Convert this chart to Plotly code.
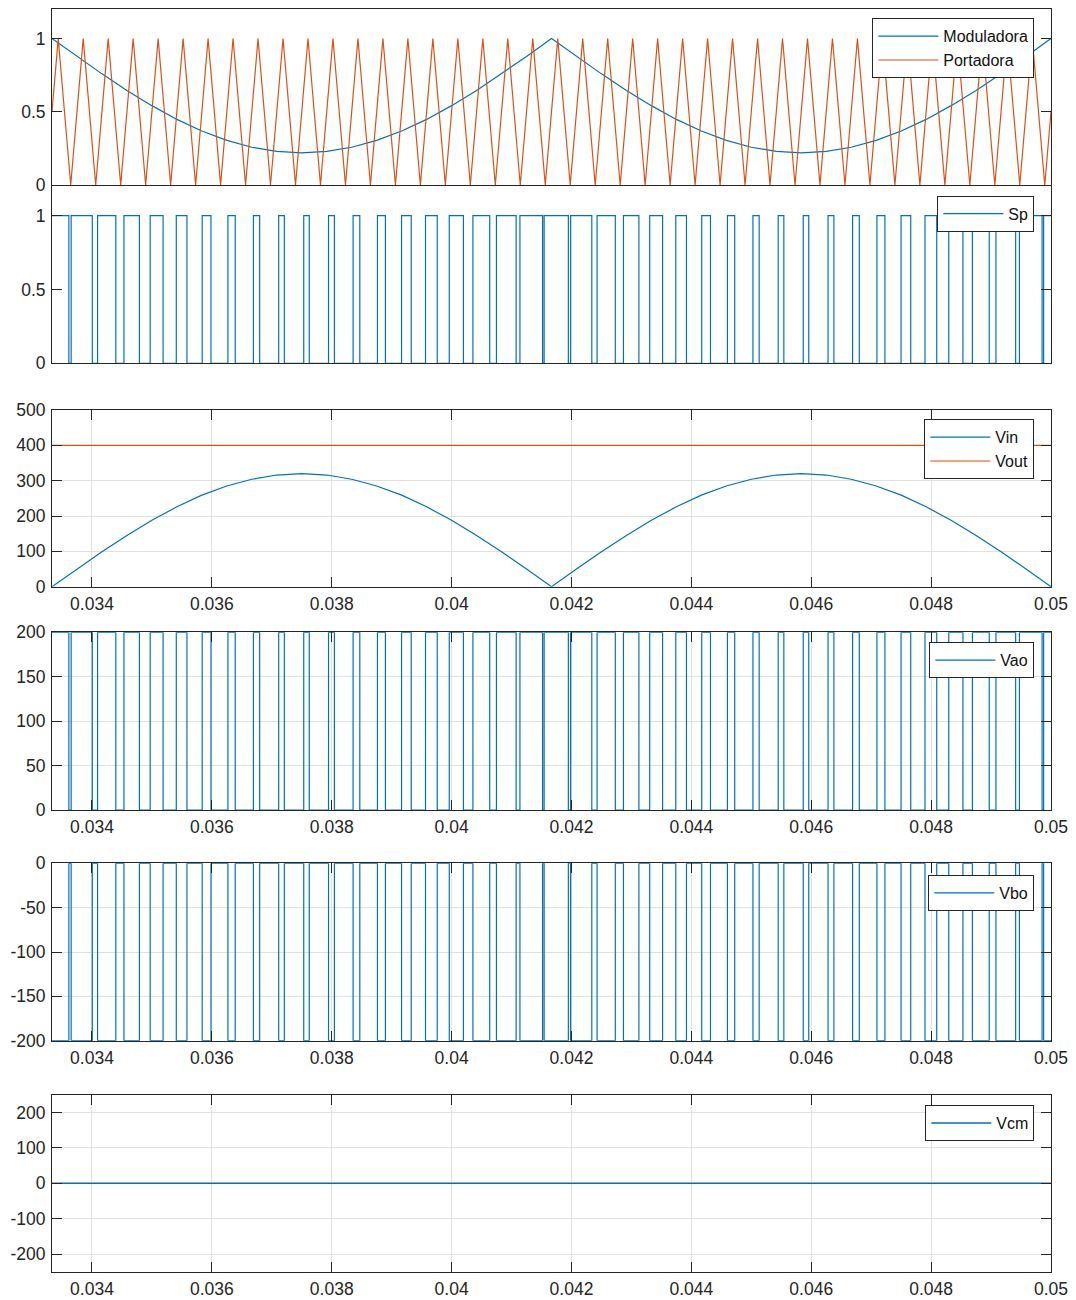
import plotly.graph_objects as go

# ---------------- data (times in milliseconds) ----------------
# Modulating signal and rectified input voltage, sampled every carrier period
mod_t_ms = [33.333, 33.750, 34.167, 34.583, 35.000, 35.417, 35.833, 36.250, 36.667, 37.083,
            37.500, 37.917, 38.333, 38.750, 39.167, 39.583, 40.000, 40.417, 40.833, 41.250,
            41.667, 42.083, 42.500, 42.917, 43.333, 43.750, 44.167, 44.583, 45.000, 45.417,
            45.833, 46.250, 46.667, 47.083, 47.500, 47.917, 48.333, 48.750, 49.167, 49.583,
            50.000]
moduladora = [1.000, 0.878, 0.759, 0.646, 0.542, 0.448, 0.369, 0.305, 0.258, 0.230,
              0.220, 0.230, 0.258, 0.305, 0.369, 0.448, 0.542, 0.646, 0.759, 0.878,
              1.000, 0.878, 0.759, 0.646, 0.542, 0.448, 0.369, 0.305, 0.258, 0.230,
              0.220, 0.230, 0.258, 0.305, 0.369, 0.448, 0.542, 0.646, 0.759, 0.878,
              1.000]
vin = [0, 50, 99, 145, 188, 226, 259, 285, 304, 316,
       320, 316, 304, 285, 259, 226, 188, 145, 99, 50,
       0, 50, 99, 145, 188, 226, 259, 285, 304, 316,
       320, 316, 304, 285, 259, 226, 188, 145, 99, 50,
       0]
vout_t_ms = [33.333, 50.000]
vout = [400, 400]

# Triangular carrier: vertex times and values
carrier_t_ms = [33.3333, 33.4375, 33.6458, 33.8542, 34.0625, 34.2708, 34.4792, 34.6875, 34.8958, 35.1042,
                35.3125, 35.5208, 35.7292, 35.9375, 36.1458, 36.3542, 36.5625, 36.7708, 36.9792, 37.1875,
                37.3958, 37.6042, 37.8125, 38.0208, 38.2292, 38.4375, 38.6458, 38.8542, 39.0625, 39.2708,
                39.4792, 39.6875, 39.8958, 40.1042, 40.3125, 40.5208, 40.7292, 40.9375, 41.1458, 41.3542,
                41.5625, 41.7708, 41.9792, 42.1875, 42.3958, 42.6042, 42.8125, 43.0208, 43.2292, 43.4375,
                43.6458, 43.8542, 44.0625, 44.2708, 44.4792, 44.6875, 44.8958, 45.1042, 45.3125, 45.5208,
                45.7292, 45.9375, 46.1458, 46.3542, 46.5625, 46.7708, 46.9792, 47.1875, 47.3958, 47.6042,
                47.8125, 48.0208, 48.2292, 48.4375, 48.6458, 48.8542, 49.0625, 49.2708, 49.4792, 49.6875,
                49.8958, 50.0000]
portadora = [0.5, 1, 0, 1, 0, 1, 0, 1, 0, 1,
             0, 1, 0, 1, 0, 1, 0, 1, 0, 1,
             0, 1, 0, 1, 0, 1, 0, 1, 0, 1,
             0, 1, 0, 1, 0, 1, 0, 1, 0, 1,
             0, 1, 0, 1, 0, 1, 0, 1, 0, 1,
             0, 1, 0, 1, 0, 1, 0, 1, 0, 1,
             0, 1, 0, 1, 0, 1, 0, 1, 0, 1,
             0, 1, 0, 1, 0, 1, 0, 1, 0, 1,
             0, 0.5]

# Gate signal Sp: rising / falling edge times of each pulse
sp_rise_ms = [33.2105, 33.6526, 34.0937, 34.5336, 34.9715, 35.4068, 35.8393, 36.2684, 36.6939, 37.1155,
              37.5332, 37.9468, 38.3566, 38.7627, 39.1651, 39.5645, 39.9611, 40.3555, 40.7483, 41.1400,
              41.5438, 41.9859, 42.4271, 42.8669, 43.3048, 43.7402, 44.1726, 44.6017, 45.0273, 45.4488,
              45.8665, 46.2802, 46.6899, 47.0960, 47.4985, 47.8978, 48.2944, 48.6889, 49.0816, 49.4733,
              49.8772]
sp_fall_ms = [33.6145, 34.0058, 34.3979, 34.7914, 35.1869, 35.5848, 35.9857, 36.3900, 36.7977, 37.2095,
              37.6252, 38.0448, 38.4684, 38.8957, 39.3265, 39.7605, 40.1973, 40.6361, 41.0767, 41.5184,
              41.9478, 42.3391, 42.7313, 43.1247, 43.5202, 43.9182, 44.3190, 44.7233, 45.1311, 45.5428,
              45.9585, 46.3782, 46.8017, 47.2290, 47.6599, 48.0938, 48.5306, 48.9695, 49.4100, 49.8517,
              50.2812]
sp_levels = [0, 1]
vao_levels = [0, 200]
vbo_levels = [0, -200]
vcm_t_ms = [33.333, 50.000]
vcm = [0, 0]

x_tickvals = [0.034, 0.036, 0.038, 0.040, 0.042, 0.044, 0.046, 0.048, 0.050]
x_ticktext = ['0.034', '0.036', '0.038', '0.04', '0.042', '0.044', '0.046', '0.048', '0.05']

# ---------------- helpers ----------------
def sec(ms_list):
    return [v / 1000.0 for v in ms_list]

def step_wave(rises, falls, levels):
    xs, ys = [], []
    lo, hi = levels
    for r, f in zip(rises, falls):
        xs += [r, r, f, f]
        ys += [lo, hi, hi, lo]
    return sec(xs), ys

BLUE = '#0072BD'
ORANGE = '#D95319'
AX = '#262626'
GRID = '#e0e0e0'
FONT = 'Liberation Sans, Arial, sans-serif'

fig = go.Figure()

fig.add_trace(go.Scatter(x=sec(mod_t_ms), y=moduladora, mode='lines', name='Moduladora',
                         line=dict(color=BLUE, width=1.2), xaxis='x', yaxis='y', legend='legend'))
fig.add_trace(go.Scatter(x=sec(carrier_t_ms), y=portadora, mode='lines', name='Portadora',
                         line=dict(color=ORANGE, width=1.2), xaxis='x', yaxis='y', legend='legend'))

sx, sy = step_wave(sp_rise_ms, sp_fall_ms, sp_levels)
fig.add_trace(go.Scatter(x=sx, y=sy, mode='lines', name='Sp',
                         line=dict(color=BLUE, width=1.2), xaxis='x2', yaxis='y2', legend='legend2'))

fig.add_trace(go.Scatter(x=sec(mod_t_ms), y=vin, mode='lines', name='Vin',
                         line=dict(color=BLUE, width=1.2), xaxis='x3', yaxis='y3', legend='legend3'))
fig.add_trace(go.Scatter(x=sec(vout_t_ms), y=vout, mode='lines', name='Vout',
                         line=dict(color=ORANGE, width=1.2), xaxis='x3', yaxis='y3', legend='legend3'))

ax_, ay_ = step_wave(sp_rise_ms, sp_fall_ms, vao_levels)
fig.add_trace(go.Scatter(x=ax_, y=ay_, mode='lines', name='Vao',
                         line=dict(color=BLUE, width=1.2), xaxis='x4', yaxis='y4', legend='legend4'))
bx_, by_ = step_wave(sp_rise_ms, sp_fall_ms, vbo_levels)
fig.add_trace(go.Scatter(x=bx_, y=by_, mode='lines', name='Vbo',
                         line=dict(color=BLUE, width=1.2), xaxis='x5', yaxis='y5', legend='legend5'))
fig.add_trace(go.Scatter(x=sec(vcm_t_ms), y=vcm, mode='lines', name='Vcm',
                         line=dict(color=BLUE, width=1.5), xaxis='x6', yaxis='y6', legend='legend6'))

W, H = 1076, 1300
xdom = [52 / W, 1051 / W]
panels_px = [(9.3, 185.0), (186.0, 363.3), (410.0, 586.7), (632.3, 810.0), (863.3, 1040.7), (1094.7, 1271.7)]
ydoms = [[1 - b / H, 1 - t / H] for (t, b) in panels_px]

y_specs = [
    dict(range=[0, 1.2], tickvals=[0, 0.5, 1], ticktext=['0', '0.5', '1'], grid=False),
    dict(range=[0, 1.2], tickvals=[0, 0.5, 1], ticktext=['0', '0.5', '1'], grid=False),
    dict(range=[0, 500], tickvals=[0, 100, 200, 300, 400, 500],
         ticktext=['0', '100', '200', '300', '400', '500'], grid=True),
    dict(range=[0, 200], tickvals=[0, 50, 100, 150, 200],
         ticktext=['0', '50', '100', '150', '200'], grid=True),
    dict(range=[-200, 0], tickvals=[-200, -150, -100, -50, 0],
         ticktext=['-200', '-150', '-100', '-50', '0'], grid=True),
    dict(range=[-250, 250], tickvals=[-200, -100, 0, 100, 200],
         ticktext=['-200', '-100', '0', '100', '200'], grid=True),
]

layout = dict(width=W, height=H, margin=dict(l=0, r=0, t=0, b=0, pad=0), autosize=False,
              paper_bgcolor='white', plot_bgcolor='white', showlegend=True,
              font=dict(family=FONT, color=AX, size=17))

tickfont = dict(family=FONT, size=17.5, color=AX)
for i in range(6):
    sfx = '' if i == 0 else str(i + 1)
    spec = y_specs[i]
    with_x = i >= 2
    layout['xaxis' + sfx] = dict(
        domain=xdom, range=[1 / 30, 0.05], anchor='y' + sfx, automargin=False,
        showline=True, linecolor=AX, linewidth=1, mirror='allticks' if with_x else True,
        ticks='inside' if with_x else '', ticklen=10, tickwidth=1, tickcolor=AX,
        tickvals=x_tickvals, ticktext=x_ticktext, showticklabels=with_x,
        tickfont=tickfont, ticklabelstandoff=1,
        showgrid=spec['grid'], gridcolor=GRID, gridwidth=1, zeroline=False,
    )
    layout['yaxis' + sfx] = dict(
        domain=ydoms[i], range=spec['range'], anchor='x' + sfx, automargin=False,
        showline=True, linecolor=AX, linewidth=1, mirror='allticks',
        ticks='inside', ticklen=10, tickwidth=1, tickcolor=AX,
        tickvals=spec['tickvals'], ticktext=spec['ticktext'],
        tickfont=tickfont, ticklabelstandoff=2,
        showgrid=spec['grid'], gridcolor=GRID, gridwidth=1, zeroline=False,
    )

legend_tops = [18.3, 195.7, 419.3, 642.3, 875.0, 1105.0]
for i, top in enumerate(legend_tops):
    key = 'legend' if i == 0 else 'legend' + str(i + 1)
    layout[key] = dict(x=1034.3 / W, xanchor='right', y=1 - top / H, yanchor='top',
                       bgcolor='white', bordercolor=AX, borderwidth=1,
                       font=dict(family=FONT, size=16, color='#111111'),
                       itemwidth=60, tracegroupgap=0)

fig.update_layout(**layout)
fig.write_html('out.html')
